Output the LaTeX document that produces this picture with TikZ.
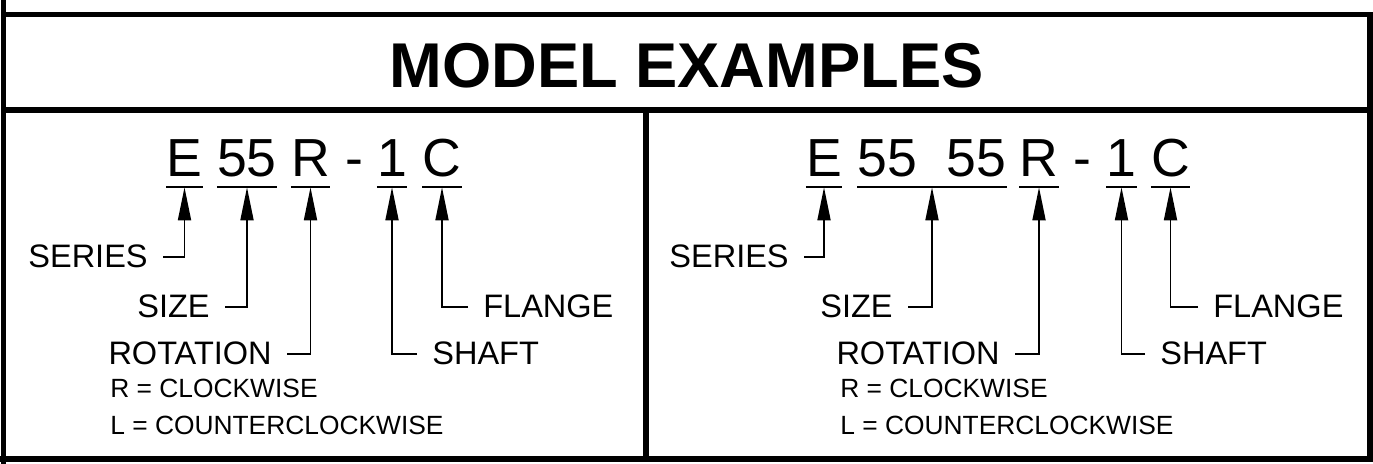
\documentclass[tikz,border=0pt]{standalone}
\usepackage{fontspec}
\setmainfont{Liberation Sans}
\usetikzlibrary{arrows.meta}
\tikzstyle{boxline}=[line width=3pt]
\tikzstyle{code}=[anchor=base, inner xsep=0pt, inner ysep=0.2cm, text depth=0pt, font=\fontsize{30.5}{30.5}\selectfont]
\tikzstyle{lbl}=[anchor=base east, inner xsep=0.3cm, inner ysep=0pt, text depth=0pt, font=\fontsize{18.5}{18.5}\selectfont]
\tikzstyle{lblr}=[lbl, anchor=base west]
\tikzstyle{note}=[anchor=base west, inner sep=0pt, font=\fontsize{15}{15}\selectfont]
\tikzstyle{lead}=[line width=1pt, -{Triangle[length=0.66cm,width=0.26cm]}]
\tikzstyle{uline}=[line width=1pt]

\begin{document}
\begin{tikzpicture}
      \useasboundingbox (0,0) rectangle (27.46,9.28);

      % frame
      \draw[boxline] (0.07,9.28) -- (0.07,0);
      \draw[boxline] (0.07,8.99) -- (27.40,8.99) -- (27.40,0.10);
      \draw[boxline] (0,0.10) -- (27.46,0.10);
      \draw[boxline] (0.07,7.08) -- (27.40,7.08);
      \draw[boxline] (12.92,7.08) -- (12.92,0.10);

      \node[anchor=base, font=\fontsize{36}{36}\selectfont\bfseries] (t1) at (13.73,7.52) {MODEL EXAMPLES};

      % left example
      \node[code] (a1) at (3.69,5.74) {E};
      \node[code] (a2) at (4.94,5.74) {55};
      \node[code] (a3) at (6.21,5.74) {R};
      \node[code] (a4) at (7.09,5.74) {-};
      \node[code] (a5) at (7.84,5.74) {1};
      \node[code] (a6) at (8.84,5.74) {C};

      \node[lbl] (b1) at (3.26,3.92) {SERIES};
      \node[lbl] (b2) at (4.50,2.92) {SIZE};
      \node[lbl] (b3) at (5.74,1.98) {ROTATION};
      \node[lblr] (b4) at (8.34,1.98) {SHAFT};
      \node[lblr] (b5) at (9.36,2.92) {FLANGE};

      \node[note] (b6) at (2.20,1.32) {R = CLOCKWISE};
      \node[note] (b7) at (2.20,0.58) {L = COUNTERCLOCKWISE};

      \draw[uline] (a1.south west) -- (a1.south east);
      \draw[uline] (a2.south west) -- (a2.south east);
      \draw[uline] (a3.south west) -- (a3.south east);
      \draw[uline] (a5.south west) -- (a5.south east);
      \draw[uline] (a6.south west) -- (a6.south east);

      \draw[lead] (b1.east) -| (a1.south);
      \draw[lead] (b2.east) -| (a2.south);
      \draw[lead] (b3.east) -| (a3.south);
      \draw[lead] (b4.west) -| (a5.south);
      \draw[lead] (b5.west) -| (a6.south);

      % right example
      \node[code] (c1) at (16.48,5.74) {E};
      \node[code] (c2) at (18.64,5.74) {55\ \ 55};
      \node[code] (c3) at (20.78,5.74) {R};
      \node[code] (c4) at (21.65,5.74) {-};
      \node[code] (c5) at (22.43,5.74) {1};
      \node[code] (c6) at (23.41,5.74) {C};

      \node[lbl] (d1) at (16.08,3.92) {SERIES};
      \node[lbl] (d2) at (18.16,2.92) {SIZE};
      \node[lbl] (d3) at (20.30,1.98) {ROTATION};
      \node[lblr] (d4) at (22.90,1.98) {SHAFT};
      \node[lblr] (d5) at (23.96,2.92) {FLANGE};

      \node[note] (d6) at (16.80,1.32) {R = CLOCKWISE};
      \node[note] (d7) at (16.80,0.58) {L = COUNTERCLOCKWISE};

      \draw[uline] (c1.south west) -- (c1.south east);
      \draw[uline] (c2.south west) -- (c2.south east);
      \draw[uline] (c3.south west) -- (c3.south east);
      \draw[uline] (c5.south west) -- (c5.south east);
      \draw[uline] (c6.south west) -- (c6.south east);

      \draw[lead] (d1.east) -| (c1.south);
      \draw[lead] (d2.east) -| (c2.south);
      \draw[lead] (d3.east) -| (c3.south);
      \draw[lead] (d4.west) -| (c5.south);
      \draw[lead] (d5.west) -| (c6.south);
\end{tikzpicture}
\end{document}
